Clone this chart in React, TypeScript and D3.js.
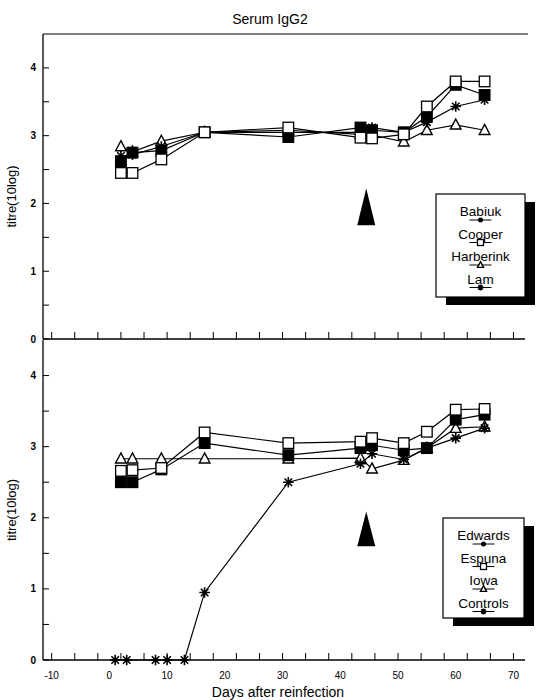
import React, { useEffect, useRef } from "react";
import * as d3 from "d3";

// sampling days (days after reinfection)
const days = [2, 4, 9, 16.5, 31, 43.5, 45.5, 51, 55, 60, 65];
const controlDays = [1, 3, 8, 10, 13, 16.5, 31, 43.5, 45.5, 51, 55, 60, 65];

// top panel
const babiuk = [2.62, 2.75, 2.78, 3.05, 2.98, 3.12, 3.08, 3.05, 3.28, 3.75, 3.6];
const cooper = [2.45, 2.45, 2.65, 3.05, 3.12, 2.97, 2.96, 3.02, 3.43, 3.8, 3.8];
const harberink = [2.84, 2.76, 2.92, 3.05, 3.08, 3.02, 3.01, 2.91, 3.08, 3.16, 3.08];
const lam = [2.7, 2.72, 2.84, 3.05, 3.05, 3.05, 3.12, 3.05, 3.2, 3.43, 3.53];

// bottom panel
const edwards = [2.5, 2.5, 2.68, 3.05, 2.88, 2.98, 3.02, 2.95, 2.98, 3.38, 3.45];
const espuna = [2.66, 2.67, 2.7, 3.2, 3.05, 3.07, 3.12, 3.05, 3.21, 3.52, 3.53];
const iowa = [2.83, 2.83, 2.83, 2.83, 2.83, 2.84, 2.69, 2.81, 2.98, 3.26, 3.28];
const controls = [0, 0, 0, 0, 0, 0.95, 2.5, 2.76, 2.9, 2.82, 2.98, 3.12, 3.26];

const xTicks = d3.range(-10, 71, 4);
const xLabels = [-10, 0, 10, 20, 30, 40, 50, 60, 70];
const yTicks = d3.range(0, 4.01, 0.5);
const yLabels = [0, 1, 2, 3, 4];

// arrowhead marker (day, tip value, base value) for each panel
const arrowDay = 44.5;
const arrowTop = [2.22, 1.68];
const arrowBottom = [2.09, 1.6];

type Series = { name: string; days: number[]; values: number[]; shape: string };

const topSeries: Series[] = [
  { name: "Harberink", days, values: harberink, shape: "triangle" },
  { name: "Lam", days, values: lam, shape: "star" },
  { name: "Babiuk", days, values: babiuk, shape: "filled" },
  { name: "Cooper", days, values: cooper, shape: "open" },
];
const topLegend = ["Babiuk", "Cooper", "Harberink", "Lam"];
const topLegendShapes = ["dot", "open", "triangle", "star"];

const bottomSeries: Series[] = [
  { name: "Iowa", days, values: iowa, shape: "triangle" },
  { name: "Controls", days: controlDays, values: controls, shape: "star" },
  { name: "Edwards", days, values: edwards, shape: "filled" },
  { name: "Espuna", days, values: espuna, shape: "open" },
];
const bottomLegend = ["Edwards", "Espuna", "Iowa", "Controls"];
const bottomLegendShapes = ["dot", "open", "triangle", "star"];

const FONT = "'Liberation Sans', Arial, sans-serif";

function drawMarker(g: any, shape: string, cx: number, cy: number, s: number) {
  if (shape === "filled" || shape === "open") {
    g.append("rect")
      .attr("x", cx - s).attr("y", cy - s)
      .attr("width", 2 * s).attr("height", 2 * s)
      .attr("fill", shape === "filled" ? "#000" : "#fff")
      .attr("stroke", "#000").attr("stroke-width", 1.3);
  } else if (shape === "dot") {
    g.append("circle").attr("cx", cx).attr("cy", cy).attr("r", s)
      .attr("fill", "#000");
  } else if (shape === "triangle") {
    g.append("path")
      .attr("d", `M${cx},${cy - s * 1.1}L${cx + s},${cy + s * 0.8}L${cx - s},${cy + s * 0.8}Z`)
      .attr("fill", "#fff").attr("stroke", "#000").attr("stroke-width", 1.4);
  } else if (shape === "star") {
    const p = d3.path();
    for (let k = 0; k < 4; k++) {
      const a = (k * Math.PI) / 4;
      p.moveTo(cx - s * Math.cos(a), cy - s * Math.sin(a));
      p.lineTo(cx + s * Math.cos(a), cy + s * Math.sin(a));
    }
    g.append("path").attr("d", p.toString())
      .attr("stroke", "#000").attr("stroke-width", 1.6).attr("fill", "none");
  }
}

function drawPanel(svg: any, yRange: [number, number], series: Series[], legendNames: string[],
  legendShapes: string[], legendBox: number[], arrow: number[], showLabels: boolean) {
  const x = d3.scaleLinear().domain([-11.5, 72]).range([43, 525]);
  const y = d3.scaleLinear().domain([0, 4.5]).range(yRange);
  const g = svg.append("g");

  // left axis
  g.append("line").attr("x1", 43).attr("x2", 43).attr("y1", y(4.5)).attr("y2", y(0))
    .attr("stroke", "#000").attr("stroke-width", 1.3);
  yTicks.forEach((t) => {
    g.append("line").attr("x1", 43).attr("x2", 49).attr("y1", y(t)).attr("y2", y(t))
      .attr("stroke", "#000").attr("stroke-width", 1);
  });
  yLabels.forEach((t) => {
    g.append("text").attr("x", 36).attr("y", y(t) + 3.5).attr("text-anchor", "end")
      .attr("font-size", 10).attr("font-weight", "bold").attr("font-family", FONT).text(t);
  });

  // bottom axis
  g.append("line").attr("x1", 43).attr("x2", 525).attr("y1", y(0)).attr("y2", y(0))
    .attr("stroke", "#000").attr("stroke-width", 1.3);
  xTicks.forEach((t) => {
    g.append("line").attr("x1", x(t)).attr("x2", x(t)).attr("y1", y(0)).attr("y2", y(0) - 7)
      .attr("stroke", "#000").attr("stroke-width", 1);
  });
  if (showLabels) {
    xLabels.forEach((t) => {
      g.append("text").attr("x", x(t)).attr("y", y(0) + 19).attr("text-anchor", "middle")
        .attr("font-size", 10).attr("font-family", FONT).text(t);
    });
  }

  // y axis title
  const mid = (yRange[0] + yRange[1]) / 2 + 10;
  g.append("text").attr("transform", `translate(16,${mid}) rotate(-90)`)
    .attr("text-anchor", "middle").attr("font-size", 13).attr("font-family", FONT)
    .text("titre(10log)");

  // arrowhead
  const ax = x(arrowDay);
  g.append("path")
    .attr("d", `M${ax},${y(arrow[0])}L${ax + 9},${y(arrow[1])}L${ax - 9},${y(arrow[1])}Z`)
    .attr("fill", "#000");

  // lines
  const line = d3.line<[number, number]>().x((d) => x(d[0])).y((d) => y(d[1]));
  series.forEach((s) => {
    const pts = s.days.map((d, i) => [d, s.values[i]] as [number, number]);
    g.append("path").attr("d", line(pts)).attr("fill", "none")
      .attr("stroke", "#000").attr("stroke-width", 1.2);
  });
  // markers
  series.forEach((s) => {
    s.days.forEach((d, i) => drawMarker(g, s.shape, x(d), y(s.values[i]), 5.3));
  });

  // legend
  const [lx, ly, lw, lh] = legendBox;
  g.append("rect").attr("x", lx + 10).attr("y", ly + 8).attr("width", lw).attr("height", lh)
    .attr("fill", "#000");
  g.append("rect").attr("x", lx).attr("y", ly).attr("width", lw).attr("height", lh)
    .attr("fill", "#fff").attr("stroke", "#000").attr("stroke-width", 1.2);
  const cx = lx + lw / 2;
  legendNames.forEach((n, i) => {
    const ty = ly + 22 + i * 22.5;
    g.append("text").attr("x", cx).attr("y", ty).attr("text-anchor", "middle")
      .attr("font-size", 13.5).attr("font-family", FONT).text(n);
    g.append("line").attr("x1", cx - 11).attr("x2", cx + 11).attr("y1", ty + 4).attr("y2", ty + 4)
      .attr("stroke", "#000").attr("stroke-width", 1);
    drawMarker(g, legendShapes[i], cx, ty + 4, legendShapes[i] === "dot" ? 2.5 : 3);
  });
}

export default function App() {
  const ref = useRef<SVGSVGElement>(null);

  useEffect(() => {
    const svg = d3.select(ref.current);
    svg.selectAll("*").remove();

    svg.append("text").attr("x", 270).attr("y", 24).attr("text-anchor", "middle")
      .attr("font-size", 14).attr("font-family", FONT).text("Serum IgG2");

    // top frame line
    svg.append("line").attr("x1", 43).attr("x2", 528).attr("y1", 34).attr("y2", 34)
      .attr("stroke", "#000").attr("stroke-width", 1.2);

    drawPanel(svg, [339, 34], topSeries, topLegend, topLegendShapes,
      [436, 194, 89, 103], arrowTop, false);
    drawPanel(svg, [660, 340], bottomSeries, bottomLegend, bottomLegendShapes,
      [443, 518, 81, 100], arrowBottom, true);

    svg.append("text").attr("x", 278).attr("y", 697).attr("text-anchor", "middle")
      .attr("font-size", 14).attr("font-family", FONT).text("Days after reinfection");
  }, []);

  return (
    <svg ref={ref} width={540} height={700}
      style={{ position: "absolute", left: 0, top: 0, background: "#fff" }} />
  );
}
